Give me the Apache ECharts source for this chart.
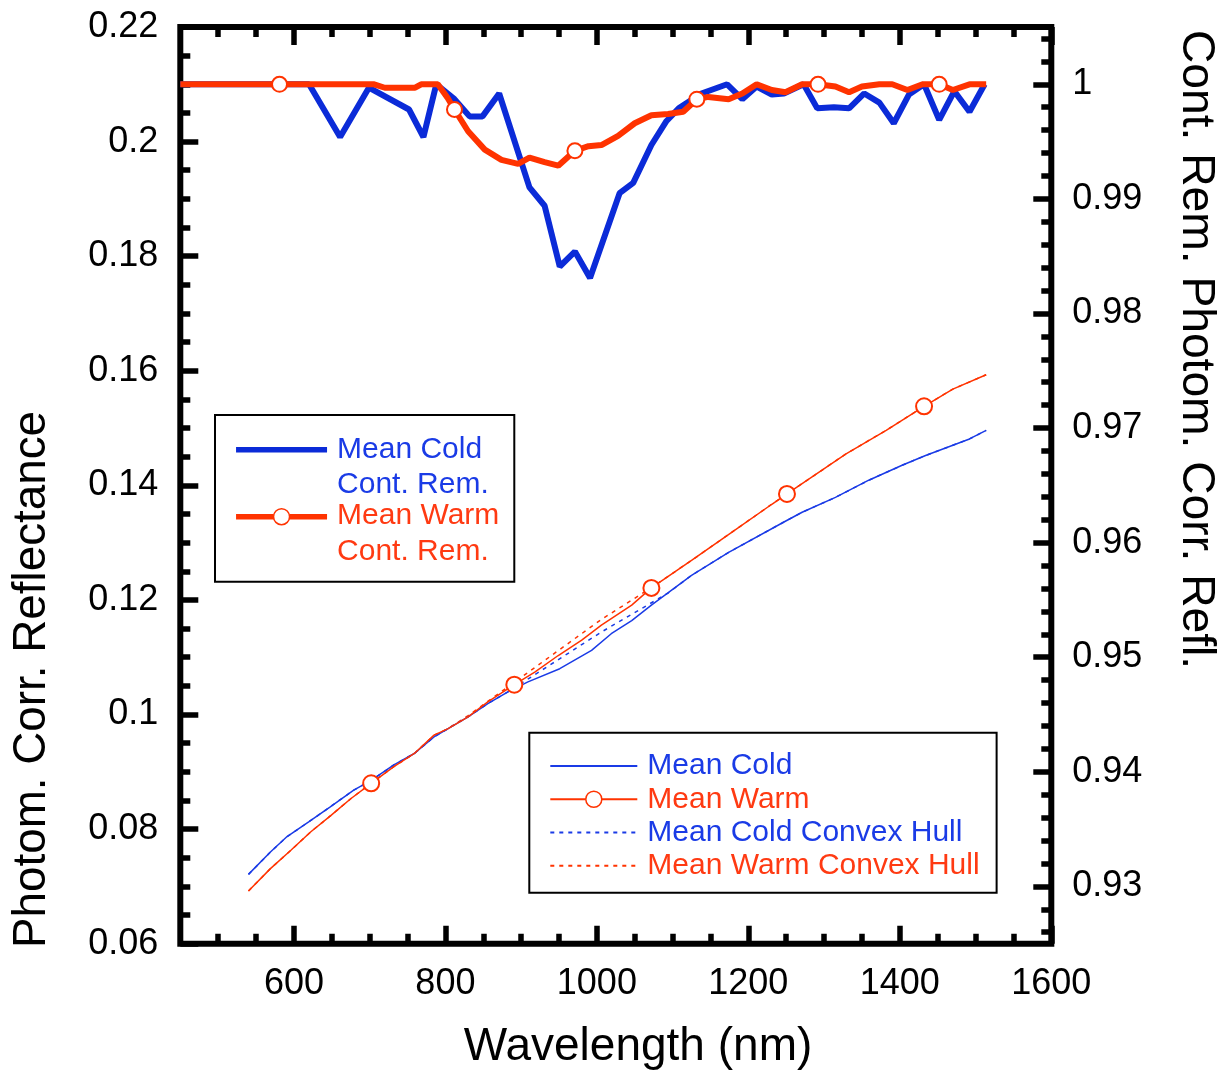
<!DOCTYPE html>
<html><head><meta charset="utf-8">
<script src="https://cdn.jsdelivr.net/npm/echarts@6/dist/echarts.min.js"></script>
<style>html,body{margin:0;padding:0;background:#fff}#chart{width:1221px;height:1076px}</style>
</head><body><div id="chart"></div>
<script>
// ---------------- DATA ----------------
// Continuum-removed spectra (right axis)
const crColdWl  = [450, 620, 661, 699, 752, 771, 788, 812, 832, 849, 871, 911, 931, 951, 971, 991, 1030, 1048, 1072, 1092, 1108, 1138, 1172, 1192, 1211, 1231, 1247, 1273, 1291, 1313, 1333, 1353, 1373, 1392, 1412, 1432, 1452, 1472, 1492, 1512];
const crColdVal = [1.0, 1.0, 0.9954, 0.9997, 0.9978, 0.9954, 1.0, 0.9987, 0.9972, 0.9972, 0.9992, 0.9910, 0.9894, 0.9841, 0.9854, 0.9831, 0.9905, 0.9914, 0.9947, 0.9968, 0.9979, 0.9992, 1.0, 0.9987, 0.9998, 0.9991, 0.9992, 1.0, 0.9979, 0.9980, 0.9979, 0.9992, 0.9984, 0.9966, 0.9991, 1.0, 0.9969, 0.9994, 0.9976, 1.0];
const crWarmWl  = [450, 581, 706, 720, 760, 768, 790, 803, 812, 830, 852, 874, 896, 911, 931, 949, 971, 989, 1006, 1028, 1050, 1072, 1094, 1114, 1132, 1147, 1174, 1192, 1211, 1231, 1249, 1271, 1292, 1315, 1333, 1350, 1373, 1390, 1410, 1430, 1452, 1470, 1492, 1514];
const crWarmVal = [1.0, 1.0, 1.0, 0.9997, 0.9997, 1.0, 1.0, 0.9988, 0.9978, 0.9959, 0.9943, 0.9934, 0.99305, 0.9936, 0.9932, 0.9929, 0.9942, 0.9946, 0.9947, 0.9955, 0.9966, 0.9973, 0.9974, 0.9976, 0.9987, 0.9989, 0.9987, 0.9992, 1.0, 0.9995, 0.9993, 1.0, 1.0, 0.9998, 0.9993, 0.9998, 1.0, 1.0, 0.9995, 1.0, 1.0, 0.9995, 1.0, 1.0];
const crWarmMarkers = [581, 812, 971, 1132, 1292, 1452];

// Photometrically corrected reflectance (left axis)
const coldWl  = [540, 569, 591, 620, 648, 679, 702, 732, 759, 785, 803, 830, 856, 882, 909, 951, 993, 1019, 1046, 1072, 1125, 1174, 1247, 1271, 1315, 1359, 1403, 1434, 1470, 1492, 1514];
const coldVal = [0.0721, 0.0760, 0.0787, 0.0813, 0.0839, 0.0868, 0.0885, 0.0912, 0.0932, 0.0961, 0.0975, 0.0996, 0.1019, 0.1039, 0.1057, 0.1080, 0.1112, 0.1141, 0.1164, 0.1191, 0.1243, 0.1283, 0.1336, 0.1353, 0.1379, 0.1409, 0.1435, 0.1452, 0.1470, 0.1481, 0.1496];
const warmWl  = [540, 569, 596, 622, 649, 675, 702, 732, 759, 785, 803, 830, 856, 891, 918, 949, 980, 1006, 1046, 1072, 1125, 1178, 1231, 1251, 1329, 1382, 1432, 1470, 1514];
const warmVal = [0.0692, 0.0731, 0.0763, 0.0795, 0.0824, 0.0853, 0.0880, 0.0909, 0.0932, 0.0964, 0.0975, 0.0996, 0.1022, 0.1052, 0.1074, 0.1103, 0.1130, 0.1156, 0.1191, 0.1221, 0.1269, 0.1318, 0.1367, 0.1385, 0.1455, 0.1496, 0.1538, 0.1568, 0.1593];
const warmMarkers = [702, 891, 1072, 1251, 1432];

// Convex hulls (left axis)
const coldHullWl  = [540, 569, 591, 620, 648, 679, 702, 732, 759, 785, 803, 830, 856, 882, 1006, 1094, 1125, 1174, 1247, 1271, 1315, 1359, 1403, 1434, 1470, 1492, 1514];
const coldHullVal = [0.0721, 0.0760, 0.0787, 0.0813, 0.0839, 0.0868, 0.0885, 0.0912, 0.0932, 0.0961, 0.0975, 0.0996, 0.1019, 0.1039, 0.1144, 0.1212, 0.1243, 0.1283, 0.1336, 0.1353, 0.1379, 0.1409, 0.1435, 0.1452, 0.1470, 0.1481, 0.1496];
const warmHullWl  = [540, 569, 596, 622, 649, 675, 702, 732, 759, 785, 803, 830, 1006, 1075, 1125, 1178, 1231, 1251, 1329, 1382, 1432, 1470, 1514];
const warmHullVal = [0.0692, 0.0731, 0.0763, 0.0795, 0.0824, 0.0853, 0.0880, 0.0909, 0.0932, 0.0964, 0.0975, 0.0998, 0.1166, 0.1224, 0.1269, 0.1318, 0.1367, 0.1385, 0.1455, 0.1496, 0.1538, 0.1568, 0.1593];

// Tick values
const xMajorTicks = [600, 800, 1000, 1200, 1400, 1600];
const xMinorTicks = [500, 550, 650, 700, 750, 850, 900, 950, 1050, 1100, 1150, 1250, 1300, 1350, 1450, 1500, 1550];
const rMajorTicks = [0.93, 0.94, 0.95, 0.96, 0.97, 0.98, 0.99, 1.0];
const rMinorTicks = [0.926, 0.928, 0.932, 0.934, 0.936, 0.938, 0.942, 0.944, 0.946, 0.948, 0.952, 0.954, 0.956, 0.958, 0.962, 0.964, 0.966, 0.968, 0.972, 0.974, 0.976, 0.978, 0.982, 0.984, 0.986, 0.988, 0.992, 0.994, 0.996, 0.998, 1.002, 1.004];

// ---------------- CHART ----------------
const FONT = '"Liberation Sans", Arial, Helvetica, sans-serif';
const BLUE = '#0b2bd8', BLUE_T = '#1a3be6', RED = '#ff3300', RED_T = '#ff3a12';
const pairs = (xs, ys) => xs.map((x, i) => [x, ys[i]]);
const markerSymbol = list => (value => list.indexOf(value[0]) >= 0 ? 'emptyCircle' : 'none');

const TICK_W = 5.5, MAJ = 18, MIN = 10;
const lbl = {color: '#000', fontSize: 36, fontFamily: FONT};

function xAx(pos, ticks, len, labels) {
  return {
    type: 'value', position: pos, min: 450, max: 1600,
    axisLine: {show: false}, splitLine: {show: false},
    axisTick: {show: true, inside: true, length: len, customValues: ticks, lineStyle: {color: '#000', width: TICK_W}},
    axisLabel: labels ? Object.assign({show: true, margin: 22, customValues: ticks, formatter: v => String(v)}, lbl) : {show: false}
  };
}

const emptyMarker = {color: '#fff', borderColor: RED, borderWidth: 1.5};
const twoLine = n => {
  const k = n.indexOf(' Cont.');
  return '{a|' + n.slice(0, k) + '}\n{b|' + n.slice(k + 1) + '}';
};

const option = {
  animation: false,
  backgroundColor: '#fff',
  grid: {left: 180.3, right: 169.7, top: 27, bottom: 132.3, show: true, borderColor: '#000', borderWidth: 6, backgroundColor: 'transparent'},
  xAxis: [
    xAx('bottom', xMajorTicks, MAJ, true),
    xAx('bottom', xMinorTicks, MIN, false),
    xAx('top', xMajorTicks, MAJ, false),
    xAx('top', xMinorTicks, MIN, false)
  ],
  yAxis: [
    {type: 'value', position: 'left', min: 0.06, max: 0.22, interval: 0.02,
     axisLine: {show: false}, splitLine: {show: false},
     axisTick: {show: true, inside: true, length: MAJ, lineStyle: {color: '#000', width: TICK_W}},
     minorTick: {show: true, splitNumber: 4, length: MIN, lineStyle: {color: '#000', width: TICK_W}},
     axisLabel: Object.assign({margin: 22}, lbl)},
    {type: 'value', position: 'right', min: 0.925, max: 1.005,
     axisLine: {show: false}, splitLine: {show: false},
     axisTick: {show: true, inside: true, length: MAJ, customValues: rMajorTicks, lineStyle: {color: '#000', width: TICK_W}},
     axisLabel: Object.assign({margin: 21, customValues: rMajorTicks}, lbl)},
    {type: 'value', position: 'right', min: 0.925, max: 1.005,
     axisLine: {show: false}, splitLine: {show: false},
     axisTick: {show: true, inside: true, length: MIN, customValues: rMinorTicks, lineStyle: {color: '#000', width: TICK_W}},
     axisLabel: {show: false}}
  ],
  legend: [
    {orient: 'vertical', left: 215, top: 415, selectedMode: false,
     itemWidth: 91, itemHeight: 20, itemGap: 1.4,
     padding: [19.3, 15, 15, 18.3], borderColor: '#000', borderWidth: 2,
     formatter: twoLine,
     textStyle: {fontSize: 30, fontFamily: FONT, padding: [0, 0, 0, 5],
       rich: {
         a: {fontSize: 30, fontFamily: FONT, lineHeight: 41},
         b: {fontSize: 30, fontFamily: FONT, lineHeight: 1, verticalAlign: 'top'}
       }},
     data: [
       {name: 'Mean Cold Cont. Rem.', textStyle: {color: BLUE_T}, itemStyle: {opacity: 0}, lineStyle: {width: 5.5}},
       {name: 'Mean Warm Cont. Rem.', textStyle: {color: RED_T}, itemStyle: emptyMarker, lineStyle: {width: 5.5}}
     ]},
    {orient: 'vertical', left: 529.3, top: 732.7, selectedMode: false,
     itemWidth: 87, itemHeight: 20, itemGap: 0,
     padding: [16.6, 17, 10.3, 20], borderColor: '#000', borderWidth: 2,
     textStyle: {fontSize: 30, fontFamily: FONT, lineHeight: 33.3, padding: [0, 0, 0, 5]},
     data: [
       {name: 'Mean Cold', textStyle: {color: BLUE_T}, itemStyle: {opacity: 0}},
       {name: 'Mean Warm', textStyle: {color: RED_T}, itemStyle: emptyMarker},
       {name: 'Mean Cold Convex Hull', textStyle: {color: BLUE_T}, itemStyle: {opacity: 0}},
       {name: 'Mean Warm Convex Hull', textStyle: {color: RED_T}, itemStyle: {opacity: 0}}
     ]}
  ],
  series: [
    {name: 'Mean Cold Cont. Rem.', type: 'line', yAxisIndex: 1, data: pairs(crColdWl, crColdVal),
     symbol: 'none', color: BLUE, lineStyle: {color: BLUE, width: 6}, z: 3},
    {name: 'Mean Warm Cont. Rem.', type: 'line', yAxisIndex: 1, data: pairs(crWarmWl, crWarmVal),
     symbol: markerSymbol(crWarmMarkers), symbolSize: 15, color: RED,
     itemStyle: {color: RED, borderWidth: 1.5}, lineStyle: {color: RED, width: 6}, z: 4},
    {name: 'Mean Cold Convex Hull', type: 'line', yAxisIndex: 0, data: pairs(coldHullWl, coldHullVal),
     symbol: 'none', color: BLUE_T, lineStyle: {color: BLUE_T, width: 1.5, type: [4, 5]}, z: 2},
    {name: 'Mean Warm Convex Hull', type: 'line', yAxisIndex: 0, data: pairs(warmHullWl, warmHullVal),
     symbol: 'none', color: RED, lineStyle: {color: RED, width: 1.5, type: [4, 5]}, z: 2},
    {name: 'Mean Cold', type: 'line', yAxisIndex: 0, data: pairs(coldWl, coldVal),
     symbol: 'none', color: BLUE_T, lineStyle: {color: BLUE_T, width: 1.5}, z: 3},
    {name: 'Mean Warm', type: 'line', yAxisIndex: 0, data: pairs(warmWl, warmVal),
     symbol: markerSymbol(warmMarkers), symbolSize: 16, color: RED,
     itemStyle: {color: RED, borderWidth: 1.5}, lineStyle: {color: RED, width: 1.5}, z: 4}
  ],
  graphic: [
    {type: 'text', x: 32, y: 948, rotation: Math.PI / 2,
     style: {text: 'Photom. Corr. Reflectance', font: '45.8px ' + FONT, fill: '#000', align: 'left', verticalAlign: 'middle'}},
    {type: 'text', x: 1196, y: 30, rotation: -Math.PI / 2,
     style: {text: 'Cont. Rem. Photom. Corr. Refl.', font: '46.2px ' + FONT, fill: '#000', align: 'left', verticalAlign: 'middle'}},
    {type: 'text', x: 638, y: 1047,
     style: {text: 'Wavelength (nm)', font: '46px ' + FONT, fill: '#000', align: 'center', verticalAlign: 'middle'}}
  ]
};

const chart = echarts.init(document.getElementById('chart'), null, {renderer: 'canvas'});
chart.setOption(option);
</script>
</body></html>
